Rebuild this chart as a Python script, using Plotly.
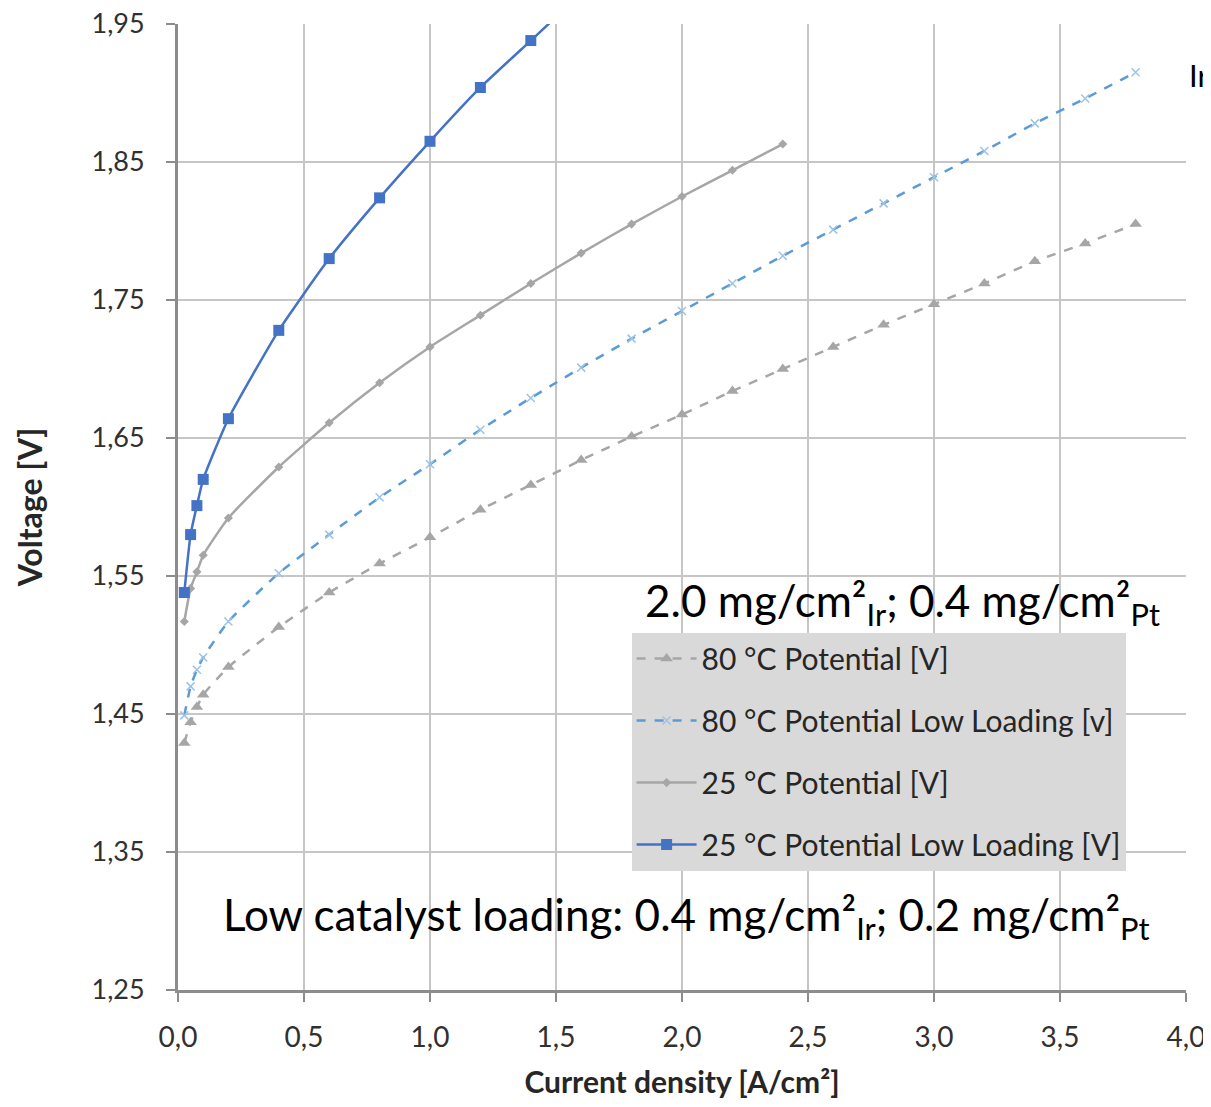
import plotly.graph_objects as go

# ---- data ----
x_80 = [0.025, 0.05, 0.075, 0.1, 0.2, 0.4, 0.6, 0.8, 1.0, 1.2, 1.4, 1.6, 1.8, 2.0, 2.2, 2.4, 2.6, 2.8, 3.0, 3.2, 3.4, 3.6, 3.8]
y_80 = [1.429, 1.444, 1.455, 1.464, 1.484, 1.513, 1.538, 1.559, 1.578, 1.598, 1.616, 1.634, 1.651, 1.667, 1.684, 1.700, 1.716, 1.732, 1.747, 1.762, 1.778, 1.791, 1.805]

x_80_low = [0.025, 0.05, 0.075, 0.1, 0.2, 0.4, 0.6, 0.8, 1.0, 1.2, 1.4, 1.6, 1.8, 2.0, 2.2, 2.4, 2.6, 2.8, 3.0, 3.2, 3.4, 3.6, 3.8]
y_80_low = [1.449, 1.470, 1.482, 1.491, 1.517, 1.552, 1.580, 1.607, 1.631, 1.656, 1.679, 1.701, 1.722, 1.742, 1.762, 1.782, 1.801, 1.820, 1.839, 1.858, 1.878, 1.896, 1.915]

x_25 = [0.025, 0.05, 0.075, 0.1, 0.2, 0.4, 0.6, 0.8, 1.0, 1.2, 1.4, 1.6, 1.8, 2.0, 2.2, 2.4]
y_25 = [1.517, 1.541, 1.553, 1.565, 1.592, 1.629, 1.661, 1.690, 1.716, 1.739, 1.762, 1.784, 1.805, 1.825, 1.844, 1.863]

x_25_low = [0.025, 0.05, 0.075, 0.1, 0.2, 0.4, 0.6, 0.8, 1.0, 1.2, 1.4, 1.6]
y_25_low = [1.538, 1.580, 1.601, 1.620, 1.664, 1.728, 1.780, 1.824, 1.865, 1.904, 1.938, 1.972]

x_ticks = [0.0, 0.5, 1.0, 1.5, 2.0, 2.5, 3.0, 3.5, 4.0]
x_ticktext = ["0,0", "0,5", "1,0", "1,5", "2,0", "2,5", "3,0", "3,5", "4,0"]
y_ticks = [1.25, 1.35, 1.45, 1.55, 1.65, 1.75, 1.85, 1.95]
y_ticktext = ["1,25", "1,35", "1,45", "1,55", "1,65", "1,75", "1,85", "1,95"]

names = ["80 °C Potential [V]", "80 °C Potential Low Loading [v]",
         "25 °C Potential [V]", "25 °C Potential Low Loading [V]"]

FONT = "Lato"
fig = go.Figure()

fig.add_trace(go.Scatter(
    x=x_80, y=y_80, name=names[0], mode="lines+markers", legendgroup="a",
    line=dict(color="#a6a6a6", width=2.5, dash="dash", shape="spline", smoothing=0.5),
    marker=dict(symbol="triangle-up", size=11, color="#a6a6a6")))
fig.add_trace(go.Scatter(
    x=x_80_low, y=y_80_low, name=names[1], mode="lines+markers", legendgroup="b",
    line=dict(color="#5b9bd5", width=2.5, dash="dash", shape="spline", smoothing=0.5),
    marker=dict(symbol="x-thin-open", size=8, color="#9dc3e6", line=dict(width=1.5, color="#9dc3e6"))))
fig.add_trace(go.Scatter(
    x=x_25, y=y_25, name=names[2], mode="lines+markers", legendgroup="c",
    line=dict(color="#a6a6a6", width=2.5, shape="spline", smoothing=0.5),
    marker=dict(symbol="diamond", size=7, color="#a6a6a6")))
fig.add_trace(go.Scatter(
    x=x_25_low, y=y_25_low, name=names[3], mode="lines+markers", legendgroup="d",
    line=dict(color="#4472c4", width=2.5, shape="spline", smoothing=0.5),
    marker=dict(symbol="square", size=11, color="#4472c4")))

fig.update_layout(
    width=1203, height=1091,
    margin=dict(l=170, r=25, t=16, b=109),
    paper_bgcolor="white", plot_bgcolor="white",
    font=dict(family=FONT, color="#262626"),
    showlegend=True,
    legend=dict(
        x=0.45, y=0.37, xanchor="left", yanchor="top",
        bgcolor="#d9d9d9", borderwidth=0,
        font=dict(family=FONT, size=30, color="#262626"),
        tracegroupgap=20, itemwidth=60,
    ),
    xaxis=dict(
        range=[0, 4], tickvals=x_ticks, ticktext=x_ticktext, automargin=False,
        showgrid=True, gridcolor="#c6c6c6", gridwidth=1.5,
        showline=True, linecolor="#8c8c8c", linewidth=3,
        ticks="outside", ticklen=9, tickcolor="#8c8c8c", tickwidth=1.5,
        ticklabelstandoff=11, ticklabeloverflow="allow",
        tickfont=dict(family=FONT, size=28, color="#303030"),
        title=dict(text="<b>Current density [A/cm²]</b>",
                   font=dict(family=FONT, size=30, color="#262626"), standoff=28),
        zeroline=False,
    ),
    yaxis=dict(
        range=[1.25, 1.95], tickvals=y_ticks, ticktext=y_ticktext, automargin=False,
        showgrid=True, gridcolor="#c6c6c6", gridwidth=1.5,
        showline=True, linecolor="#8c8c8c", linewidth=3,
        ticks="outside", ticklen=9, tickcolor="#8c8c8c", tickwidth=1.5,
        ticklabelstandoff=16, ticklabeloverflow="allow",
        tickfont=dict(family=FONT, size=27, color="#303030"),
        title=dict(text="<b>Voltage [V]</b>",
                   font=dict(family=FONT, size=32, color="#262626"), standoff=40),
        zeroline=False,
    ),
)

fig.add_annotation(
    text="2.0 mg/cm²<sub>Ir</sub>; 0.4 mg/cm²<sub>Pt</sub>",
    xref="paper", yref="paper", x=0.976, y=0.40, xanchor="right", yanchor="middle",
    showarrow=False, font=dict(family=FONT, size=44, color="black"))
fig.add_annotation(
    text="Low catalyst loading: 0.4 mg/cm²<sub>Ir</sub>; 0.2 mg/cm²<sub>Pt</sub>",
    xref="paper", yref="paper", x=0.966, y=0.075, xanchor="right", yanchor="middle",
    showarrow=False, font=dict(family=FONT, size=44, color="black"))
fig.add_annotation(
    text="Ir",
    xref="paper", yref="paper", x=1.0, xshift=1, y=0.947, xanchor="left", yanchor="middle",
    showarrow=False, font=dict(family=FONT, size=31, color="black"))

fig.write_html("out.html")
